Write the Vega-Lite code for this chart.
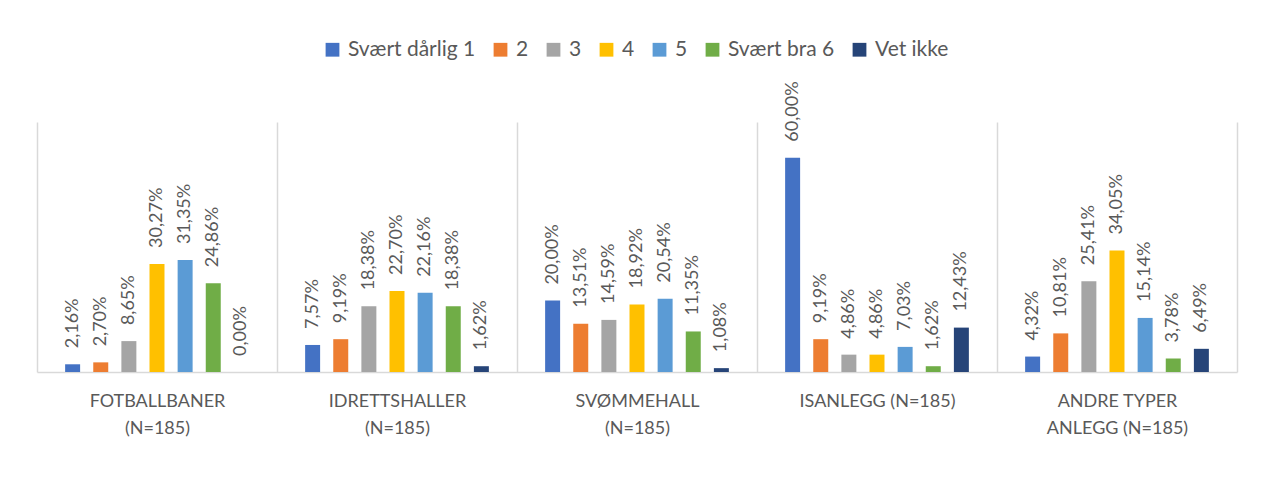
{
  "$schema": "https://vega.github.io/schema/vega-lite/v6.json",
  "width": 1200,
  "height": 250,
  "autosize": "none",
  "padding": {"left": 37, "top": 122, "right": 29, "bottom": 118},
  "config": {
    "font": "Lato",
    "view": {"stroke": null},
    "locale": {"number": {"decimal": ",", "thousands": " ", "grouping": [3], "currency": ["", " kr"]}}
  },
  "data": {
    "values": [
      {"anlegg": "FOTBALLBANER (N=185)", "svar": "Svært dårlig 1", "andel": 0.0216},
      {"anlegg": "FOTBALLBANER (N=185)", "svar": "2", "andel": 0.0270},
      {"anlegg": "FOTBALLBANER (N=185)", "svar": "3", "andel": 0.0865},
      {"anlegg": "FOTBALLBANER (N=185)", "svar": "4", "andel": 0.3027},
      {"anlegg": "FOTBALLBANER (N=185)", "svar": "5", "andel": 0.3135},
      {"anlegg": "FOTBALLBANER (N=185)", "svar": "Svært bra 6", "andel": 0.2486},
      {"anlegg": "FOTBALLBANER (N=185)", "svar": "Vet ikke", "andel": 0.0},
      {"anlegg": "IDRETTSHALLER (N=185)", "svar": "Svært dårlig 1", "andel": 0.0757},
      {"anlegg": "IDRETTSHALLER (N=185)", "svar": "2", "andel": 0.0919},
      {"anlegg": "IDRETTSHALLER (N=185)", "svar": "3", "andel": 0.1838},
      {"anlegg": "IDRETTSHALLER (N=185)", "svar": "4", "andel": 0.2270},
      {"anlegg": "IDRETTSHALLER (N=185)", "svar": "5", "andel": 0.2216},
      {"anlegg": "IDRETTSHALLER (N=185)", "svar": "Svært bra 6", "andel": 0.1838},
      {"anlegg": "IDRETTSHALLER (N=185)", "svar": "Vet ikke", "andel": 0.0162},
      {"anlegg": "SVØMMEHALL (N=185)", "svar": "Svært dårlig 1", "andel": 0.2000},
      {"anlegg": "SVØMMEHALL (N=185)", "svar": "2", "andel": 0.1351},
      {"anlegg": "SVØMMEHALL (N=185)", "svar": "3", "andel": 0.1459},
      {"anlegg": "SVØMMEHALL (N=185)", "svar": "4", "andel": 0.1892},
      {"anlegg": "SVØMMEHALL (N=185)", "svar": "5", "andel": 0.2054},
      {"anlegg": "SVØMMEHALL (N=185)", "svar": "Svært bra 6", "andel": 0.1135},
      {"anlegg": "SVØMMEHALL (N=185)", "svar": "Vet ikke", "andel": 0.0108},
      {"anlegg": "ISANLEGG (N=185)", "svar": "Svært dårlig 1", "andel": 0.6000},
      {"anlegg": "ISANLEGG (N=185)", "svar": "2", "andel": 0.0919},
      {"anlegg": "ISANLEGG (N=185)", "svar": "3", "andel": 0.0486},
      {"anlegg": "ISANLEGG (N=185)", "svar": "4", "andel": 0.0486},
      {"anlegg": "ISANLEGG (N=185)", "svar": "5", "andel": 0.0703},
      {"anlegg": "ISANLEGG (N=185)", "svar": "Svært bra 6", "andel": 0.0162},
      {"anlegg": "ISANLEGG (N=185)", "svar": "Vet ikke", "andel": 0.1243},
      {"anlegg": "ANDRE TYPER ANLEGG (N=185)", "svar": "Svært dårlig 1", "andel": 0.0432},
      {"anlegg": "ANDRE TYPER ANLEGG (N=185)", "svar": "2", "andel": 0.1081},
      {"anlegg": "ANDRE TYPER ANLEGG (N=185)", "svar": "3", "andel": 0.2541},
      {"anlegg": "ANDRE TYPER ANLEGG (N=185)", "svar": "4", "andel": 0.3405},
      {"anlegg": "ANDRE TYPER ANLEGG (N=185)", "svar": "5", "andel": 0.1514},
      {"anlegg": "ANDRE TYPER ANLEGG (N=185)", "svar": "Svært bra 6", "andel": 0.0378},
      {"anlegg": "ANDRE TYPER ANLEGG (N=185)", "svar": "Vet ikke", "andel": 0.0649}
    ]
  },
  "encoding": {
    "x": {
      "field": "anlegg",
      "type": "nominal",
      "sort": ["FOTBALLBANER (N=185)", "IDRETTSHALLER (N=185)", "SVØMMEHALL (N=185)", "ISANLEGG (N=185)", "ANDRE TYPER ANLEGG (N=185)"],
      "scale": {"paddingInner": 0, "paddingOuter": 0},
      "axis": {
        "title": null,
        "labelAngle": 0,
        "labelFontSize": 18,
        "labelColor": "#595959",
        "labelPadding": 20,
        "labelLineHeight": 27,
        "labelBaseline": "top",
        "labelExpr": "!isValid(datum.value) ? '' : datum.value == 'ISANLEGG (N=185)' ? datum.value : datum.value == 'ANDRE TYPER ANLEGG (N=185)' ? ['ANDRE TYPER', 'ANLEGG (N=185)'] : split(datum.value, ' ')",
        "ticks": false,
        "domainColor": "#D9D9D9",
        "domainWidth": 1.5,
        "grid": true,
        "gridColor": "#D9D9D9",
        "gridWidth": 1.5,
        "tickBand": "extent"
      }
    },
    "xOffset": {
      "field": "svar",
      "type": "nominal",
      "scale": {
        "domain": ["Svært dårlig 1", "2", "3", "4", "5", "Svært bra 6", "Vet ikke"],
        "paddingInner": 0.467,
        "paddingOuter": 1.14
      }
    },
    "y": {
      "field": "andel",
      "type": "quantitative",
      "scale": {"domain": [0, 0.7], "nice": false},
      "axis": null
    }
  },
  "layer": [
    {
      "mark": {"type": "bar"},
      "encoding": {
        "color": {
          "field": "svar",
          "type": "nominal",
          "scale": {
            "domain": ["Svært dårlig 1", "2", "3", "4", "5", "Svært bra 6", "Vet ikke"],
            "range": ["#4472C4", "#ED7D31", "#A5A5A5", "#FFC000", "#5B9BD5", "#70AD47", "#264478"]
          },
          "legend": {
            "title": null,
            "orient": "none",
            "direction": "horizontal",
            "legendX": 285,
            "legendY": -83,
            "symbolType": "square",
            "symbolSize": 190,
            "symbolStrokeWidth": 0,
            "labelFontSize": 21,
            "labelColor": "#595959",
            "labelOffset": 5,
            "columnPadding": 14
          }
        }
      }
    },
    {
      "mark": {"type": "text", "angle": -90, "align": "left", "baseline": "middle", "dx": 16, "fontSize": 18, "color": "#595959"},
      "encoding": {
        "text": {"field": "andel", "type": "quantitative", "format": ".2%"}
      }
    }
  ]
}
